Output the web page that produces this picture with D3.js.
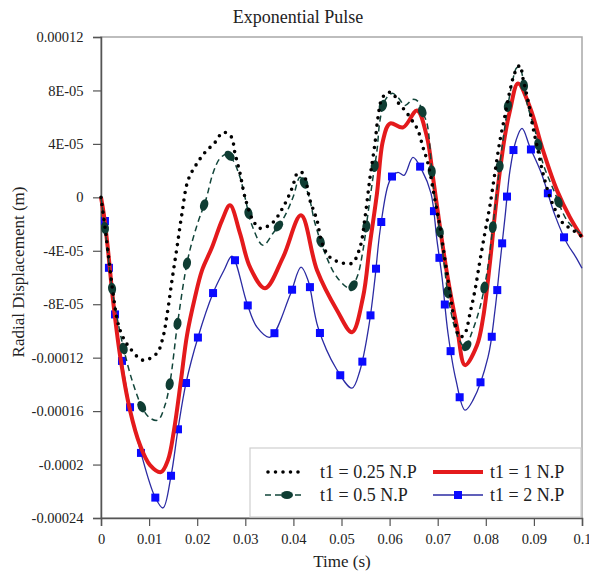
<!DOCTYPE html>
<html lang="en">
<head>
<meta charset="UTF-8">
<title>Exponential Pulse</title>
<script src="https://cdnjs.cloudflare.com/ajax/libs/d3/7.8.5/d3.min.js"></script>
<style>
  body { margin: 0; background: #fff; }
</style>
</head>
<body>
<div id="chart"></div>
<script>
// tick values and the labels as printed on the original
const xTicks = [0, 0.01, 0.02, 0.03, 0.04, 0.05, 0.06, 0.07, 0.08, 0.09, 0.1];
const xTickLabels = ["0", "0.01", "0.02", "0.03", "0.04", "0.05", "0.06", "0.07", "0.08", "0.09", "0.1"];
const yTicks = [0.00012, 0.00008, 0.00004, 0, -0.00004, -0.00008, -0.00012, -0.00016, -0.0002, -0.00024];
const yTickLabels = ["0.00012", "8E-05", "4E-05", "0", "-4E-05", "-8E-05", "-0.00012", "-0.00016", "-0.0002", "-0.00024"];

const seriesNames = ["t1 = 0.25 N.P", "t1 = 0.5 N.P", "t1 = 1 N.P", "t1 = 2 N.P"];

// [time (s), radial displacement (m)]
const np025 = [
  [0, 0], [0.00104, -2.84e-5], [0.0025, -7.18e-5], [0.00353, -9.42e-5], [0.00457, -10.47e-5],
  [0.00603, -11.29e-5], [0.00873, -12.19e-5], [0.01164, -11.66e-5], [0.01289, -10.47e-5],
  [0.01372, -8.82e-5], [0.01476, -6.21e-5], [0.0158, -3.74e-5], [0.01684, -1.2e-5],
  [0.01809, 1.27e-5], [0.01996, 2.54e-5], [0.02162, 3.36e-5], [0.0237, 4.11e-5],
  [0.02536, 4.86e-5], [0.02703, 4.56e-5], [0.02786, 3.29e-5], [0.0289, 1.8e-5],
  [0.02994, 0], [0.0316, -1.72e-5], [0.03306, -2.32e-5], [0.03555, -1.94e-5],
  [0.03784, -0.75e-5], [0.03971, 0.67e-5], [0.04096, 1.87e-5], [0.042, 1.8e-5],
  [0.04345, -0.22e-5], [0.04491, -1.72e-5], [0.04595, -3.44e-5], [0.04761, -4.49e-5],
  [0.04969, -4.86e-5], [0.05218, -4.93e-5], [0.05385, -3.74e-5], [0.05489, -1.5e-5],
  [0.05593, 1.5e-5], [0.05696, 4.04e-5], [0.05759, 5.98e-5], [0.05842, 7.4e-5],
  [0.05967, 7.85e-5], [0.06071, 7.78e-5], [0.06175, 7.1e-5], [0.0632, 6.5e-5],
  [0.06466, 5.76e-5], [0.0659, 5.01e-5], [0.06694, 3.74e-5], [0.06798, 2.54e-5],
  [0.06944, -0.22e-5], [0.07048, -2.24e-5], [0.07152, -4.71e-5], [0.07256, -7.18e-5],
  [0.0736, -9.42e-5], [0.07464, -10.47e-5], [0.07568, -10.17e-5], [0.07672, -8.67e-5],
  [0.07775, -6.95e-5], [0.0788, -4.71e-5], [0.07983, -2.62e-5], [0.08087, -0.6e-5],
  [0.08191, 1.87e-5], [0.08295, 4.26e-5], [0.08399, 6.13e-5], [0.08503, 8.0e-5],
  [0.08607, 9.35e-5], [0.08711, 9.87e-5], [0.08773, 8.9e-5], [0.08877, 7.25e-5],
  [0.08981, 5.23e-5], [0.09085, 3.51e-5], [0.09189, 1.8e-5], [0.09335, 0],
  [0.0948, -1.2e-5], [0.09605, -1.94e-5], [0.0975, -2.32e-5], [0.1, -2.92e-5]
];

const np05 = [
  [0, 0], [0.00083, -2.32e-5], [0.00229, -6.8e-5], [0.00353, -9.35e-5], [0.00478, -11.44e-5],
  [0.00665, -13.91e-5], [0.00873, -15.85e-5], [0.01019, -16.52e-5], [0.01185, -16.67e-5],
  [0.01331, -15.55e-5], [0.01435, -13.83e-5], [0.01601, -9.2e-5], [0.01809, -4.56e-5],
  [0.01996, -2.09e-5], [0.02183, -0.15e-5], [0.02328, 1.8e-5], [0.02474, 2.92e-5],
  [0.0262, 3.22e-5], [0.02744, 2.77e-5], [0.0289, 1.5e-5], [0.02994, 0],
  [0.03139, -2.09e-5], [0.03368, -3.59e-5], [0.03576, -2.69e-5], [0.03805, -1.5e-5],
  [0.03992, 0], [0.04137, 1.5e-5], [0.04304, 0.3e-5], [0.04449, -1.94e-5],
  [0.04657, -4.19e-5], [0.04906, -5.98e-5], [0.05177, -6.8e-5], [0.05322, -5.98e-5],
  [0.05447, -3.96e-5], [0.05551, -1.2e-5], [0.05655, 1.5e-5], [0.05738, 3.51e-5],
  [0.058, 5.76e-5], [0.05904, 7.25e-5], [0.0605, 7.78e-5], [0.06175, 7.48e-5],
  [0.0632, 6.88e-5], [0.06486, 7.33e-5], [0.0659, 7.18e-5], [0.06694, 6.28e-5],
  [0.06778, 5.53e-5], [0.06902, 1.05e-5], [0.0709, -3.74e-5], [0.07256, -8.22e-5],
  [0.07422, -10.47e-5], [0.07568, -11.21e-5], [0.07713, -10.09e-5], [0.0788, -8.22e-5],
  [0.08025, -5.61e-5], [0.08191, -0.82e-5], [0.08337, 3.74e-5], [0.08545, 8.52e-5],
  [0.08649, 9.72e-5], [0.08711, 9.65e-5], [0.08857, 7.03e-5], [0.09023, 5.01e-5],
  [0.09189, 2.54e-5], [0.09439, 0.3e-5], [0.09688, -1.72e-5], [0.1, -2.84e-5]
];

const np1 = [
  [0, 0], [0.00062, -1.35e-5], [0.00146, -3.96e-5], [0.0025, -7.7e-5], [0.00395, -11.81e-5],
  [0.00603, -15.93e-5], [0.00811, -18.54e-5], [0.01019, -20.04e-5], [0.01247, -20.56e-5],
  [0.01393, -19.66e-5], [0.01518, -17.42e-5], [0.01663, -13.68e-5], [0.01788, -10.32e-5],
  [0.01954, -7.48e-5], [0.021, -5.46e-5], [0.02308, -3.74e-5], [0.02516, -1.72e-5],
  [0.02682, -0.6e-5], [0.0289, -2.69e-5], [0.03098, -5.23e-5], [0.0341, -6.8e-5],
  [0.03784, -4.49e-5], [0.04158, -1.35e-5], [0.04491, -5.46e-5], [0.04906, -8.45e-5],
  [0.05218, -10.09e-5], [0.05447, -7.48e-5], [0.05593, -3.44e-5], [0.05738, 0.3e-5],
  [0.05863, 4.26e-5], [0.06008, 5.53e-5], [0.06279, 5.23e-5], [0.0657, 6.5e-5],
  [0.06778, 4.49e-5], [0.06902, 1.5e-5], [0.07048, -2.24e-5], [0.07193, -5.68e-5],
  [0.07401, -9.72e-5], [0.07568, -12.56e-5], [0.07817, -11.07e-5], [0.07942, -9.05e-5],
  [0.08087, -4.86e-5], [0.08191, -1.2e-5], [0.08295, 2.02e-5], [0.08399, 4.64e-5],
  [0.08503, 6.5e-5], [0.08669, 8.52e-5], [0.08919, 6.73e-5], [0.09189, 3.51e-5],
  [0.0948, 0.52e-5], [0.0975, -1.5e-5], [0.1, -2.99e-5]
];

const np2 = [
  [0, 0], [0.00083, -1.8e-5], [0.00166, -5.31e-5], [0.00291, -8.75e-5], [0.00437, -12.26e-5],
  [0.00603, -15.7e-5], [0.00832, -19.14e-5], [0.01123, -22.43e-5], [0.01289, -23.25e-5],
  [0.01455, -20.86e-5], [0.01601, -17.35e-5], [0.01767, -13.91e-5], [0.02017, -10.47e-5],
  [0.02328, -7.18e-5], [0.02557, -5.46e-5], [0.02723, -4.41e-5], [0.03035, -7.93e-5],
  [0.03243, -9.72e-5], [0.03514, -10.47e-5], [0.03929, -7.33e-5], [0.04158, -5.23e-5],
  [0.04304, -6.21e-5], [0.04511, -9.72e-5], [0.04886, -12.79e-5], [0.05218, -14.28e-5],
  [0.05385, -12.94e-5], [0.05572, -9.57e-5], [0.05696, -6.06e-5], [0.058, -2.54e-5],
  [0.05967, 0.9e-5], [0.06071, 1.65e-5], [0.06175, 1.87e-5], [0.063, 1.65e-5],
  [0.06486, 2.99e-5], [0.06674, 2.02e-5], [0.06861, 0.3e-5], [0.06985, -3.22e-5],
  [0.0709, -5.98e-5], [0.07214, -10.17e-5], [0.0738, -13.68e-5], [0.07568, -15.93e-5],
  [0.07734, -15.18e-5], [0.08046, -11.96e-5], [0.08191, -8.45e-5], [0.08295, -4.93e-5],
  [0.08399, -1.5e-5], [0.08503, 2.02e-5], [0.08628, 4.26e-5], [0.08753, 5.16e-5],
  [0.08919, 3.74e-5], [0.09148, 1.87e-5], [0.09439, -1.35e-5], [0.09688, -3.44e-5],
  [0.09875, -4.49e-5], [0.1, -5.31e-5]
];

const width = 589, height = 575;
const margin = {top: 37, right: 7, bottom: 57, left: 101};
const serif = "'Liberation Serif', 'Times New Roman', 'DejaVu Serif', serif";

const svg = d3.select("#chart").append("svg")
  .attr("width", width)
  .attr("height", height);

const x = d3.scaleLinear().domain([0, 0.1]).range([margin.left, width - margin.right]);
const y = d3.scaleLinear().domain([-0.00024, 0.00012]).range([height - margin.bottom, margin.top]);

// frame: light top/right edges, dark axes
svg.append("rect")
  .attr("x", x(0)).attr("y", y(0.00012))
  .attr("width", x(0.1) - x(0)).attr("height", y(-0.00024) - y(0.00012))
  .attr("fill", "none").attr("stroke", "#a8a8a8").attr("stroke-width", 1.5);

const xAxis = svg.append("g")
  .attr("transform", `translate(0,${y(-0.00024)})`)
  .call(d3.axisBottom(x).tickValues(xTicks).tickSize(8).tickPadding(8)
    .tickFormat((d, i) => xTickLabels[i]));

const yAxis = svg.append("g")
  .attr("transform", `translate(${x(0)},0)`)
  .call(d3.axisLeft(y).tickValues(yTicks).tickSize(8).tickPadding(8)
    .tickFormat((d, i) => yTickLabels[i]));

[xAxis, yAxis].forEach(a => {
  a.select(".domain").attr("stroke", "#555").attr("stroke-width", 1.5);
  a.selectAll(".tick line").attr("stroke", "#555").attr("stroke-width", 1.2);
  a.selectAll(".tick text")
    .style("font-family", serif)
    .style("font-size", "14.5px")
    .attr("fill", "#222");
});
yAxis.selectAll(".tick text").attr("dx", "-0.1em");

svg.append("text")
  .attr("x", 298).attr("y", 23)
  .attr("text-anchor", "middle")
  .style("font-family", serif).style("font-size", "18px")
  .attr("fill", "#222")
  .text("Exponential Pulse");

svg.append("text")
  .attr("x", 342).attr("y", 567)
  .attr("text-anchor", "middle")
  .style("font-family", serif).style("font-size", "17px")
  .attr("fill", "#222")
  .text("Time (s)");

svg.append("text")
  .attr("transform", "translate(24,272) rotate(-90)")
  .attr("text-anchor", "middle")
  .style("font-family", serif).style("font-size", "17px")
  .attr("fill", "#222")
  .text("Radial Displacement (m)");

const line = d3.line()
  .x(d => x(d[0]))
  .y(d => y(d[1]))
  .curve(d3.curveCatmullRom.alpha(0.5));

// positions spaced evenly along the drawn path, with the local direction
function along(path, offset, step) {
  const node = path.node();
  const len = node.getTotalLength();
  const pts = [];
  for (let s = offset; s <= len; s += step) {
    const p = node.getPointAtLength(s);
    const a = node.getPointAtLength(Math.max(0, s - 1.5));
    const b = node.getPointAtLength(Math.min(len, s + 1.5));
    pts.push({x: p.x, y: p.y, angle: Math.atan2(b.y - a.y, b.x - a.x) * 180 / Math.PI});
  }
  return pts;
}

const plot = svg.append("g");

// t1 = 2 N.P
const bluePath = plot.append("path")
  .datum(np2)
  .attr("d", line)
  .attr("fill", "none")
  .attr("stroke", "#2b2ba3")
  .attr("stroke-width", 1.3);

plot.selectAll(".sq")
  .data(along(bluePath, 24, 47))
  .enter().append("rect")
  .attr("class", "sq")
  .attr("x", d => d.x - 4).attr("y", d => d.y - 4)
  .attr("width", 8).attr("height", 8)
  .attr("fill", "#0a0aff");

// t1 = 1 N.P
plot.append("path")
  .datum(np1)
  .attr("d", line)
  .attr("fill", "none")
  .attr("stroke", "#e41a1c")
  .attr("stroke-width", 4)
  .attr("stroke-linejoin", "round");

// t1 = 0.5 N.P
const greenPath = plot.append("path")
  .datum(np05)
  .attr("d", line)
  .attr("fill", "none")
  .attr("stroke", "#12453a")
  .attr("stroke-width", 1.5)
  .attr("stroke-dasharray", "6,4");

plot.selectAll(".el")
  .data(along(greenPath, 31, 61))
  .enter().append("ellipse")
  .attr("class", "el")
  .attr("transform", d => `translate(${d.x},${d.y}) rotate(${d.angle})`)
  .attr("rx", 6).attr("ry", 4)
  .attr("fill", "#0f3d33");

// t1 = 0.25 N.P
plot.append("path")
  .datum(np025)
  .attr("d", line)
  .attr("fill", "none")
  .attr("stroke", "#000")
  .attr("stroke-width", 3.6)
  .attr("stroke-linecap", "round")
  .attr("stroke-dasharray", "0,7.5");

// legend
const lg = svg.append("g");
lg.append("rect")
  .attr("x", 250).attr("y", 448)
  .attr("width", 331).attr("height", 69)
  .attr("fill", "#fff").attr("stroke", "#cfcfcf").attr("stroke-width", 1.2);

const legendItems = [
  {name: seriesNames[0], col: 0, row: 0},
  {name: seriesNames[2], col: 1, row: 0},
  {name: seriesNames[1], col: 0, row: 1},
  {name: seriesNames[3], col: 1, row: 1}
];
const colX = [[265, 305, 320], [433, 483, 490]];
const rowY = [472, 495];

legendItems.forEach(it => {
  const [x0, x1, tx] = colX[it.col];
  const cy = rowY[it.row];
  const g = lg.append("g");
  if (it.name === seriesNames[0]) {
    g.append("line").attr("x1", x0 + 3).attr("x2", x1).attr("y1", cy).attr("y2", cy)
      .attr("stroke", "#000").attr("stroke-width", 3.6)
      .attr("stroke-linecap", "round").attr("stroke-dasharray", "0,7.5");
  } else if (it.name === seriesNames[1]) {
    g.append("line").attr("x1", x0).attr("x2", x1).attr("y1", cy).attr("y2", cy)
      .attr("stroke", "#12453a").attr("stroke-width", 1.5).attr("stroke-dasharray", "6,4");
    g.append("ellipse").attr("cx", (x0 + x1) / 2 + 2).attr("cy", cy)
      .attr("rx", 6).attr("ry", 4).attr("fill", "#0f3d33");
  } else if (it.name === seriesNames[2]) {
    g.append("line").attr("x1", x0).attr("x2", x1).attr("y1", cy).attr("y2", cy)
      .attr("stroke", "#e41a1c").attr("stroke-width", 4);
  } else {
    g.append("line").attr("x1", x0).attr("x2", x1).attr("y1", cy).attr("y2", cy)
      .attr("stroke", "#2b2ba3").attr("stroke-width", 1.3);
    g.append("rect").attr("x", (x0 + x1) / 2 - 4).attr("y", cy - 4)
      .attr("width", 8).attr("height", 8).attr("fill", "#0a0aff");
  }
  g.append("text")
    .attr("x", tx).attr("y", cy + 6)
    .style("font-family", serif).style("font-size", "18px")
    .attr("fill", "#222")
    .text(it.name);
});
</script>
</body>
</html>
